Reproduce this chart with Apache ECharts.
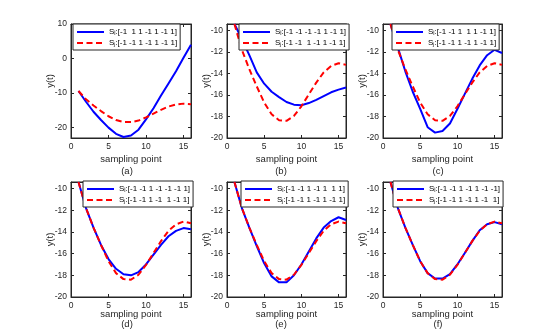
<!DOCTYPE html>
<html>
<head>
<meta charset="utf-8">
<script src="https://cdn.jsdelivr.net/npm/echarts@6/dist/echarts.min.js"></script>
<style>
  html, body { margin: 0; padding: 0; background: #fff; }
  #chart { width: 554px; height: 332px; }
</style>
</head>
<body>
<div id="chart"></div>
<script>
// sampling points
const xPoints = [1, 2, 3, 4, 5, 6, 7, 8, 9, 10, 11, 12, 13, 14, 15, 16]

// red dashed curve, same S_j in every panel
const refSeq = [-9.4, -11.8, -13.6, -15.2, -16.7, -17.8, -18.35, -18.4, -17.95, -17.05, -15.95, -14.85, -13.9, -13.3, -13.05, -13.2]

// blue solid curves, one per panel
const seqA = [-9.4, -12.5, -15.4, -17.8, -20.0, -21.8, -22.7, -22.3, -20.6, -17.6, -14.4, -10.7, -7.2, -3.7, 0.2, 4.0]
const seqB = [-9.4, -10.8, -12.3, -13.9, -14.95, -15.7, -16.2, -16.65, -16.9, -16.95, -16.75, -16.45, -16.1, -15.75, -15.5, -15.3]
const seqC = [-9.4, -11.6, -13.8, -15.7, -17.3, -19.0, -19.5, -19.35, -18.65, -17.3, -15.9, -14.5, -13.25, -12.3, -11.8, -12.1]
const seqD = [-9.4, -11.8, -13.6, -15.2, -16.5, -17.4, -17.9, -18.0, -17.7, -17.0, -16.1, -15.2, -14.4, -13.9, -13.65, -13.75]
const seqE = [-9.4, -11.8, -13.6, -15.3, -16.9, -18.1, -18.65, -18.65, -18.0, -17.0, -15.8, -14.6, -13.6, -13.0, -12.65, -12.9]
const seqF = [-9.4, -11.8, -13.6, -15.2, -16.7, -17.8, -18.3, -18.3, -17.9, -17.0, -15.95, -14.85, -13.85, -13.3, -13.1, -13.3]

// legend labels
const blueNames = [
  'Sᵢ:[-1  1 1 -1 1 -1 1]',
  'Sᵢ:[-1 -1 -1 -1 1 -1 1]',
  'Sᵢ:[-1 -1 1  1 1 -1 1]',
  'Sᵢ:[-1 -1 1 -1 -1 -1 1]',
  'Sᵢ:[-1 -1 1 -1 1  1 1]',
  'Sᵢ:[-1 -1 1 -1 1 -1 -1]'
]
const redNames = [
  'Sⱼ:[-1 -1 1 -1 1 -1 1]',
  'Sⱼ:[-1 -1  1 -1 1 -1 1]',
  'Sⱼ:[-1 -1 1 -1 1 -1 1]',
  'Sⱼ:[-1 -1 1 -1  1 -1 1]',
  'Sⱼ:[-1 -1 1 -1 1 -1 1]',
  'Sⱼ:[-1 -1 1 -1 1 -1  1]'
]
const panelTags = ['(a)', '(b)', '(c)', '(d)', '(e)', '(f)']
const yTicksA = [-20, -10, 0, 10]

const blueSeqs = [seqA, seqB, seqC, seqD, seqE, seqF]

const font = 'Liberation Sans, Arial, Helvetica, sans-serif'
const ink = '#262626'

// layout of the 2x3 panels
const gridLeft = [71, 227, 383]
const gridWidth = [120, 119, 119]
const gridTop = [24, 182]
const gridHeight = [114, 115]
const xNameGap = [16, 12]
const legendPos = [[73, 24], [239, 24], [392, 24], [83, 181], [241, 181], [393, 181]]
const tagPos = [[127, 171], [281, 171], [438, 171], [127, 324], [281, 324], [438, 324]]

const grid = []
const xAxis = []
const yAxis = []
const series = []
const legend = []
const graphic = []

for (let i = 0; i < 6; i++) {
  const r = Math.floor(i / 3)
  const c = i % 3
  grid.push({
    left: gridLeft[c], top: gridTop[r], width: gridWidth[c], height: gridHeight[r],
    show: true, borderColor: ink, borderWidth: 1, backgroundColor: '#fff'
  })

  const xBase = {
    type: 'value', gridIndex: i, min: 0, max: 16, interval: 5,
    axisLine: { show: true, onZero: false, lineStyle: { color: ink, width: 1 } },
    axisTick: { show: true, inside: true, length: 3, lineStyle: { color: ink } },
    splitLine: { show: false }
  }
  xAxis.push(Object.assign({}, xBase, {
    position: 'bottom',
    name: 'sampling point', nameLocation: 'middle', nameGap: xNameGap[r], nameMoveOverlap: false,
    nameTextStyle: { fontFamily: font, fontSize: 9.5, color: ink },
    axisLabel: { fontFamily: font, fontSize: 8.5, color: ink, margin: 4 }
  }))
  xAxis.push(Object.assign({}, xBase, { position: 'top', axisLabel: { show: false } }))

  let yBase
  if (i === 0) {
    yBase = {
      type: 'value', gridIndex: i, min: -23, max: 10,
      axisTick: { show: true, inside: true, length: 3, lineStyle: { color: ink }, customValues: yTicksA },
      axisLabel: { fontFamily: font, fontSize: 8.5, color: ink, margin: 4, customValues: yTicksA }
    }
  } else {
    yBase = {
      type: 'value', gridIndex: i, min: -20, max: -9.4, interval: 2,
      axisTick: { show: true, inside: true, length: 3, lineStyle: { color: ink } },
      axisLabel: { fontFamily: font, fontSize: 8.5, color: ink, margin: 4,
        showMaxLabel: false }
    }
  }
  yBase.axisLine = { show: true, onZero: false, lineStyle: { color: ink, width: 1 } }
  yBase.splitLine = { show: false }
  yAxis.push(Object.assign({}, yBase, {
    position: 'left',
    name: 'y(t)', nameLocation: 'middle', nameGap: 16, nameMoveOverlap: false,
    nameTextStyle: { fontFamily: font, fontSize: 9.5, color: ink }
  }))
  yAxis.push(Object.assign({}, yBase, {
    position: 'right',
    axisLabel: Object.assign({}, yBase.axisLabel, { show: false })
  }))

  series.push({
    name: blueNames[i], type: 'line', xAxisIndex: 2 * i, yAxisIndex: 2 * i,
    data: xPoints.map((x, k) => [x, blueSeqs[i][k]]),
    symbol: 'none', lineStyle: { color: '#0000ff', width: 2 }, itemStyle: { color: '#0000ff' },
    animation: false, z: 2
  })
  series.push({
    name: redNames[i], type: 'line', xAxisIndex: 2 * i, yAxisIndex: 2 * i,
    data: xPoints.map((x, k) => [x, refSeq[k]]),
    symbol: 'none', lineStyle: { color: '#ff0000', width: 2, type: [6, 3.5] }, itemStyle: { color: '#ff0000' },
    animation: false, z: 3
  })

  legend.push({
    data: [blueNames[i], redNames[i]],
    orient: 'vertical', left: legendPos[i][0], top: legendPos[i][1],
    padding: [4, 3, 3, 3], itemGap: 3, itemWidth: 27, itemHeight: 10, itemTextGap: 4,
    backgroundColor: '#fff', borderColor: ink, borderWidth: 1,
    selectedMode: false, z: 10,
    itemStyle: { opacity: 0 },
    lineStyle: { width: 2 },
    textStyle: { fontFamily: font, fontSize: 8, color: '#000' }
  })

  graphic.push({
    type: 'text', x: tagPos[i][0], y: tagPos[i][1],
    style: { text: panelTags[i], fill: ink, font: '9.5px ' + font, textAlign: 'center', textVerticalAlign: 'middle' }
  })
}

const chart = echarts.init(document.getElementById('chart'), null, { renderer: 'canvas' })
chart.setOption({
  animation: false,
  backgroundColor: '#fff',
  grid: grid,
  xAxis: xAxis,
  yAxis: yAxis,
  legend: legend,
  series: series,
  graphic: graphic
})
</script>
</body>
</html>
